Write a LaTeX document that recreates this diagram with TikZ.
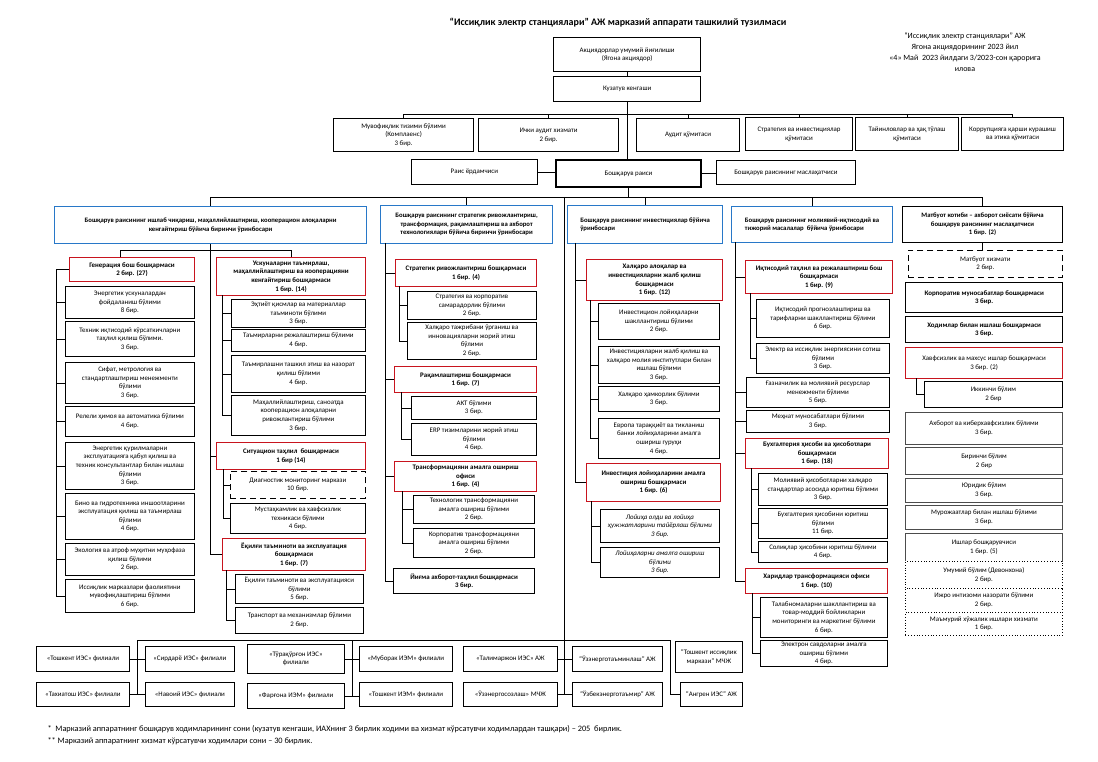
\documentclass[tikz,border=0pt]{standalone}
\usepackage{fontspec}
\setmainfont{Carlito}
\usetikzlibrary{calc}
\definecolor{redb}{RGB}{200,20,30}
\definecolor{blueb}{RGB}{40,120,200}
\tikzset{
 box/.style={draw=black, line width=0.8pt, fill=white, inner sep=1pt, align=center, font=\fontsize{6.9}{8.6}\selectfont},
 bbox/.style={box, font=\bfseries\fontsize{6.9}{8.6}\selectfont},
 hbox/.style={box, font=\bfseries\fontsize{6.7}{8.6}\selectfont},
 redbox/.style={bbox, draw=redb, line width=1.1pt},
 redplain/.style={box, draw=redb, line width=1.1pt},
 bluebox/.style={hbox, draw=blueb, line width=1.2pt},
 dashbox/.style={box, dash pattern=on 6pt off 4pt},
 dotbox/.style={box, dotted},
 thickbox/.style={bbox, line width=1.3pt},
 graybox/.style={box, draw=black!70, line width=1pt},
 itbox/.style={box, font=\itshape\fontsize{6.9}{8.6}\selectfont},
 conn/.style={draw=black, line width=0.7pt},
}
\newcommand{\obox}[7]{%
 \pgfmathsetmacro\bw{#4-#2}\pgfmathsetmacro\bh{#5-#3}%
 \node[#6, anchor=north west, minimum width=\bw pt, minimum height=\bh pt] (#1) at (#2,#3) {#7};}
\newcommand{\busto}[2]{\draw[conn] (#1 |- #2.west) -- (#2.west);}
\begin{document}
\begin{tikzpicture}[x=1pt,y=-1pt]
\fill[white] (0,0) rectangle (1098,762);
\useasboundingbox (0,0) rectangle (1098,762);

% title and note
\node[font=\bfseries\fontsize{10}{12}\selectfont] (title) at (618,23) {“Иссиқлик электр станциялари” АЖ марказий аппарати ташкилий тузилмаси};
\node[align=center, font=\fontsize{8}{11}\selectfont] (note) at (965,52) {“Иссиқлик электр станциялари” АЖ\\Ягона акциядорининг 2023 йил\\«4» Май\ \ 2023 йилдаги 3/2023-сон қарорига\\илова};

% top
\obox{aksh}{553}{37}{700}{71}{box, line width=1.3pt}{Акциядорлар умумий йиғилиши\\(Ягона акциядор)}
\obox{kuz}{553}{76}{700}{101}{box, line width=1.3pt}{Кузатув кенгаши}
\obox{c1}{333}{118}{473}{151}{box, line width=1.1pt}{Мувофиқлик тизими бўлими\\(Комплаенс)\\3 бир.}
\obox{c2}{478}{118}{618}{151}{box, line width=1.1pt}{Ички аудит хизмати\\2 бир.}
\obox{c3}{636}{118}{739}{151}{box, line width=1.1pt}{Аудит қўмитаси}
\obox{c4}{745}{117}{852}{150}{box, line width=1.1pt}{Стратегия ва инвестициялар\\қўмитаси}
\obox{c5}{855}{117}{958}{150}{box, line width=1.1pt}{Тайинловлар ва ҳақ тўлаш\\қўмитаси}
\obox{c6}{961}{117}{1063}{150}{box, line width=1.1pt}{Коррупцияга қарши курашиш\\ва этика қўмитаси}
\obox{yor}{411}{159}{537}{184}{box}{Раис ёрдамчиси}
\obox{rais}{555}{159}{700}{186}{box, line width=2pt}{Бошқарув раиси}
\obox{masl}{716}{160}{855}{184}{box}{Бошқарув раисининг маслаҳатчиси}

\draw[conn] (aksh) -- (kuz);
\coordinate (cb) at (0,114);
\draw[conn] (kuz.south) -- (kuz.south |- rais.north);
\draw[conn] (c1.north) -- (c1.north |- cb) -- (c6.north |- cb) -- (c6.north);
\foreach \c in {c2,c3,c4,c5} {\draw[conn] (\c.north) -- (\c.north |- cb);}
\draw[conn] (yor.east) -- (yor.east -| rais.west);
\draw[conn] (rais.east) -- (rais.east -| masl.west);

% headers
\obox{h1}{54}{206}{366}{243}{bluebox}{Бошқарув раисининг ишлаб чиқариш, маҳаллийлаштириш, кооперацион алоқаларни\\кенгайтириш бўйича биринчи ўринбосари}
\obox{h2}{380}{205}{552}{243}{bluebox}{Бошқарув раисининг стратегик ривожлантириш,\\трансформация, рақамлаштириш ва ахборот\\технологиялари бўйича биринчи ўринбосари}
\obox{h3}{567}{205}{722}{243}{bluebox, align=left}{Бошқарув раисининг инвестициялар бўйича\\ўринбосари}
\obox{h4}{731}{206}{892}{242}{bluebox, align=left}{Бошқарув раисининг молиявий-иқтисодий ва\\тижорий масалалар\ \ бўйича ўринбосари}
\obox{h5}{902}{206}{1062}{242}{hbox, line width=1.1pt}{Матбуот котиби – ахборот сиёсати бўйича\\бошқарув раисининг маслаҳатчиси\\1 бир. (2)}

\coordinate (hb) at (0,197);
\coordinate (lv) at (564,640);
\draw[conn] (rais.south) -- (rais.south |- hb);
\draw[conn] (h1.north) -- (h1.north |- hb) -- (h5.north |- hb) -- (h5.north);
\foreach \c in {h2,h3,h4} {\draw[conn] (\c.north) -- (\c.north |- hb);}
\draw[conn] (lv |- hb) -- (lv);

% column 1
\obox{g}{69}{257}{194}{281}{redbox}{Генерация бош бошқармаси\\2 бир. (27)}
\obox{u}{216}{257}{365}{295}{redbox}{Ускуналарни таъмирлаш,\\маҳаллийлаштириш ва кооперацияни\\кенгайтириш бошқармаси\\1 бир. (14)}
\coordinate (s1) at (120,250);
\draw[conn] (h1.south) -- (h1.south |- s1);
\draw[conn] (s1 |- g.north) -- (s1) -- (s1 -| u.north) -- (u.north);

\obox{e1}{65}{286}{194}{318}{box}{Энергетик ускуналардан\\фойдаланиш бўлими\\8 бир.}
\obox{e2}{65}{321}{194}{356}{box}{Техник иқтисодий кўрсаткичларни\\таҳлил қилиш бўлими.\\3 бир.}
\obox{e3}{65}{362}{194}{403}{box}{Сифат, метрология ва\\стандартлаштириш менежменти\\бўлими\\3 бир.}
\obox{e4}{65}{406}{194}{436}{box}{Релели ҳимоя ва автоматика бўлими\\4 бир.}
\obox{e5}{65}{442}{194}{489}{box}{Энергетик қурилмаларни\\эксплуатацияга қабул қилиш ва\\техник консультантлар билан ишлаш\\бўлими\\3 бир.}
\obox{e6}{65}{493}{194}{539}{box}{Бино ва гидротехника иншоотларини\\эксплуатация қилиш ва таъмирлаш\\бўлими\\4 бир.}
\obox{e7}{65}{543}{194}{575}{box}{Экология ва атроф муҳитни муҳофаза\\қилиш бўлими\\2 бир.}
\obox{e8}{65}{579}{194}{612}{box}{Иссиқлик марказлари фаолиятини\\мувофиқлаштириш бўлими\\6 бир.}
\coordinate (b1) at (56,269);
\draw[conn] (g.west) -- (g.west -| b1) -- (b1 |- e8.west) -- (e8.west);
\foreach \c in {e1,e2,e3,e4,e5,e6,e7} {\busto{b1}{\c}}

\obox{m1}{231}{299}{365}{327}{box}{Эҳтиёт қисмлар ва материаллар\\таъминоти бўлими\\3 бир.}
\obox{m2}{231}{329}{365}{351}{box}{Таъмирларни режалаштириш бўлими\\4 бир.}
\obox{m3}{231}{355}{365}{392}{box}{Таъмирлашни ташкил этиш ва назорат\\қилиш бўлими\\4 бир.}
\obox{m4}{231}{395}{365}{435}{box}{Маҳаллийлаштириш, саноатда\\кооперацион алоқаларни\\ривожлантириш бўлими\\3 бир.}
\coordinate (b2) at (222,295);
\draw[conn] (b2) -- (b2 |- m4.west) -- (m4.west);
\foreach \c in {m1,m2,m3} {\busto{b2}{\c}}

\obox{sit}{216}{442}{365}{469}{redbox}{Ситуацион таҳлил\ \ бошқармаси\\1 бир (14)}
\obox{d1}{230}{471}{365}{498}{dashbox}{Диагностик мониторинг маркази\\10 бир.}
\obox{d2}{230}{503}{365}{533}{box}{Мустаҳкамлик ва хавфсизлик\\техникаси бўлими\\4 бир.}
\coordinate (b3) at (223,469);
\draw[conn] (b3) -- (b3 |- d2.west) -- (d2.west);
\busto{b3}{d1}
\obox{yoq}{222}{538}{365}{570}{redbox}{Ёқилғи таъминоти ва эксплуатация\\бошқармаси\\1 бир. (7)}
\obox{f1}{235}{574}{363}{603}{box}{Ёқилғи таъминоти ва эксплуатацияси\\бўлими\\5 бир.}
\obox{f2}{235}{607}{363}{633}{box}{Транспорт ва механизмлар бўлими\\2 бир.}
\coordinate (b4) at (226,570);
\draw[conn] (b4) -- (b4 |- f2.west) -- (f2.west);
\busto{b4}{f1}
\draw[conn] (h1.south |- s1) -- (h1.south |- yoq.west) -- (yoq.west);
\draw[conn] (h1.south |- sit.west) -- (sit.west);

% column 2
\coordinate (b5) at (385,243);
\obox{s1b}{395}{259}{536}{286}{redbox}{Стратегик ривожлантириш бошқармаси\\1 бир. (4)}
\obox{s1x}{407}{291}{536}{319}{box}{Стратегия ва корпоратив\\самарадорлик бўлими\\2 бир.}
\obox{s1y}{407}{322}{536}{359}{box}{Халқаро тажрибани ўрганиш ва\\инновацияларни жорий этиш\\бўлими\\2 бир.}
\coordinate (b6) at (399,286);
\draw[conn] (b6) -- (b6 |- s1y.west) -- (s1y.west);
\busto{b6}{s1x}
\obox{r1}{394}{366}{536}{392}{redbox}{Рақамлаштириш бошқармаси\\1 бир. (7)}
\obox{r1x}{411}{396}{536}{419}{box}{АКТ бўлими\\3 бир.}
\obox{r1y}{411}{423}{536}{455}{box}{ERP тизимларини жорий этиш\\бўлими\\4 бир.}
\coordinate (b7) at (401,392);
\draw[conn] (b7) -- (b7 |- r1y.west) -- (r1y.west);
\busto{b7}{r1x}
\obox{t1}{394}{461}{536}{491}{redbox}{Трансформацияни амалга ошириш\\офиси\\1 бир. (4)}
\obox{t1x}{413}{495}{534}{523}{box}{Технологик трансформацияни\\амалга ошириш бўлими\\2 бир.}
\obox{t1y}{413}{528}{534}{557}{box}{Корпоратив трансформацияни\\амалга ошириш бўлими\\2 бир.}
\coordinate (b8) at (402,491);
\draw[conn] (b8) -- (b8 |- t1y.west) -- (t1y.west);
\busto{b8}{t1x}
\obox{y1}{393}{568}{534}{593}{thickbox}{Йиғма ахборот-таҳлил бошқармаси\\3 бир.}
\draw[conn] (b5) -- (b5 |- y1.west) -- (y1.west);
\foreach \c in {s1b,r1,t1} {\busto{b5}{\c}}

% column 3
\coordinate (b9) at (575,243);
\obox{x1}{586}{259}{722}{300}{redbox}{Халқаро алоқалар ва\\инвестицияларни жалб қилиш\\бошқармаси\\1 бир. (12)}
\obox{x1a}{598}{303}{719}{339}{box}{Инвестицион лойиҳаларни\\шакллантириш бўлими\\2 бир.}
\obox{x1b}{598}{346}{719}{383}{box}{Инвестицияларни жалб қилиш ва\\халқаро молия институтлари билан\\ишлаш бўлими\\3 бир.}
\obox{x1c}{598}{386}{719}{411}{box}{Халқаро ҳамкорлик бўлими\\3 бир.}
\obox{x1d}{598}{418}{719}{458}{box}{Европа тараққиёт ва тикланиш\\банки лойиҳаларини амалга\\ошириш гуруҳи\\4 бир.}
\coordinate (b10) at (590,300);
\draw[conn] (b10) -- (b10 |- x1d.west) -- (x1d.west);
\foreach \c in {x1a,x1b,x1c} {\busto{b10}{\c}}
\obox{x2}{586}{463}{720}{501}{redbox}{Инвестиция лойиҳаларини амалга\\ошириш бошқармаси\\1 бир. (6)}
\obox{x2a}{600}{509}{719}{542}{itbox}{Лойиҳа олди ва лойиҳа\\ҳужжатларини тайёрлаш бўлими\\3 бир.}
\obox{x2b}{600}{547}{719}{577}{itbox}{Лойиҳаларни амалга ошириш\\бўлими\\3 бир.}
\coordinate (b11) at (591,501);
\draw[conn] (b11) -- (b11 |- x2b.west) -- (x2b.west);
\busto{b11}{x2a}
\draw[conn] (b9) -- (b9 |- x2.west) -- (x2.west);
\busto{b9}{x1}

% column 4
\coordinate (b12) at (735,242);
\obox{i1}{745}{260}{892}{293}{redbox}{Иқтисодий таҳлил ва режалаштириш бош\\бошқармаси\\1 бир. (9)}
\obox{i1a}{756}{299}{889}{337}{box}{Иқтисодий прогнозлаштириш ва\\тарифларни шакллантириш бўлими\\6 бир.}
\obox{i1b}{756}{343}{889}{373}{box}{Электр ва иссиқлик энергиясини сотиш\\бўлими\\3 бир.}
\coordinate (b13) at (750,293);
\draw[conn] (b13) -- (b13 |- i1b.west) -- (i1b.west);
\busto{b13}{i1a}
\obox{gz}{746}{377}{889}{407}{box}{Ғазначилик ва молиявий ресурслар\\менежменти бўлими\\5 бир.}
\obox{mh}{746}{410}{889}{432}{box}{Меҳнат муносабатлари бўлими\\3 бир.}
\obox{bu}{745}{438}{888}{468}{redbox}{Бухгалтерия ҳисоби ва ҳисоботлари\\бошқармаси\\1 бир. (18)}
\obox{bua}{758}{473}{887}{505}{box}{Молиявий ҳисоботларни халқаро\\стандартлар асосида юритиш бўлими\\3 бир.}
\obox{bub}{758}{508}{887}{538}{box}{Бухгалтерия ҳисобини юритиш\\бўлими\\11 бир.}
\obox{buc}{758}{541}{887}{562}{box}{Солиқлар ҳисобини юритиш бўлими\\4 бир.}
\coordinate (b14) at (751,468);
\draw[conn] (b14) -- (b14 |- buc.west) -- (buc.west);
\foreach \c in {bua,bub} {\busto{b14}{\c}}
\obox{hr}{745}{568}{887}{593}{redbox}{Харидлар трансформацияси офиси\\1 бир. (10)}
\obox{hra}{760}{597}{887}{637}{box}{Талабномаларни шакллантириш ва\\товар-моддий бойликларни\\мониторинги ва маркетинг бўлими\\6 бир.}
\obox{hrb}{760}{640}{887}{666}{box}{Электрон савдоларни амалга\\ошириш бўлими\\4 бир.}
\coordinate (b15) at (752,593);
\draw[conn] (b15) -- (b15 |- hrb.west) -- (hrb.west);
\busto{b15}{hra}
\draw[conn] (b12) -- (b12 |- hr.west) -- (hr.west);
\foreach \c in {i1,gz,mh,bu} {\busto{b12}{\c}}

% column 5
\obox{mx}{908}{250}{1062}{277}{dashbox}{Матбуот хизмати\\2 бир.}
\draw[conn] (h5.south) -- (h5.south |- mx.north);
\obox{kr}{905}{282}{1062}{312}{thickbox}{Корпоратив муносабатлар бошқармаси\\3 бир.}
\obox{hd}{905}{316}{1062}{342}{thickbox}{Ходимлар билан ишлаш бошқармаси\\3 бир.}
\obox{hv}{905}{347}{1062}{378}{redplain}{Хавфсизлик ва махсус ишлар бошқармаси\\3 бир. (2)}
\obox{ik}{924}{381}{1062}{407}{box}{Иккинчи бўлим\\2 бир}
\coordinate (b16) at (916,378);
\draw[conn] (b16) |- (ik.west);
\obox{ax}{905}{412}{1062}{444}{graybox}{Ахборот ва киберхавфсизлик бўлими\\3 бир.}
\obox{br}{905}{447}{1062}{474}{graybox}{Биринчи бўлим\\2 бир}
\obox{yu}{905}{478}{1062}{502}{graybox}{Юридик бўлим\\3 бир.}
\obox{mu}{905}{505}{1062}{529}{graybox}{Мурожаатлар билан ишлаш бўлими\\3 бир.}
\obox{is}{905}{533}{1062}{561}{graybox}{Ишлар бошқарувчиси\\1 бир. (5)}
\obox{um}{905}{561}{1062}{588}{dotbox}{Умумий бўлим (Девонхона)\\2 бир.}
\obox{ij}{905}{588}{1062}{612}{dotbox}{Ижро интизоми назорати бўлими\\2 бир.}
\obox{mm}{905}{612}{1062}{635}{dotbox}{Маъмурий хўжалик ишлари хизмати\\1 бир.}

% filials
\obox{fa1}{36}{646}{129}{671}{box}{«Тошкент ИЭС» филиали}
\obox{fa2}{36}{682}{129}{706}{box}{«Тахиатош ИЭС» филиали}
\obox{fb1}{145}{646}{234}{671}{box}{«Сирдарё ИЭС» филиали}
\obox{fb2}{145}{682}{234}{706}{box}{«Навоий ИЭС» филиали}
\obox{fc1}{247}{644}{344}{673}{box}{«Тўрақўрғон ИЭС»\\филиали}
\obox{fc2}{247}{683}{344}{708}{box}{«Фарғона ИЭМ» филиали}
\obox{fd1}{359}{646}{452}{671}{box}{«Муборак ИЭМ» филиали}
\obox{fd2}{359}{682}{452}{706}{box}{«Тошкент ИЭМ» филиали}
\obox{fe1}{463}{646}{557}{671}{box}{«Талимаржон ИЭС» АЖ}
\obox{fe2}{463}{682}{557}{706}{box}{«Ўзэнергосозлаш» МЧЖ}
\obox{ff1}{572}{646}{662}{671}{box}{“Ўзэнерготаъминлаш” АЖ}
\obox{ff2}{572}{682}{662}{706}{box}{“Ўзбекэнерготаъмир” АЖ}
\obox{fg1}{675}{641}{742}{672}{box}{“Тошкент иссиқлик\\маркази” МЧЖ}
\obox{fg2}{680}{682}{742}{706}{box}{“Ангрен ИЭС” АЖ}

\coordinate (fbL) at (137,640);
\coordinate (fbM) at (352,640);
\coordinate (fbR) at (670,640);
\draw[conn] (fbL) -- (fbR);
\draw[conn] (fbL) -- (fbL |- fa2.east);
\draw[conn] (fbM) -- (fbM |- fc2.east);
\draw[conn] (lv) -- (lv |- fe2.east);
\draw[conn] (fbR) -- (fbR |- fg2.west) -- (fg2.west);
\draw[conn] (fa1.east) -- (fa1.east -| fb1.west);
\draw[conn] (fa2.east) -- (fa2.east -| fb2.west);
\draw[conn] (fc1.east) -- (fc1.east -| fd1.west);
\draw[conn] (fc2.east) -- (fc2.east -| fd2.west);
\draw[conn] (fe1.east) -- (fe1.east -| ff1.west);
\draw[conn] (fe2.east) -- (fe2.east -| ff2.west);

% footnotes
\node[anchor=west, font=\fontsize{8.3}{9}\selectfont] (fn1) at (44,729) {*\ \ Марказий аппаратнинг бошқарув ходимларининг сони (кузатув кенгаши, ИАХнинг 3 бирлик ходими ва хизмат кўрсатувчи ходимлардан ташқари) – 205\ \ бирлик.};
\node[anchor=west, font=\fontsize{8.3}{9}\selectfont] (fn2) at (44,741) {** Марказий аппаратнинг хизмат кўрсатувчи ходимлари сони – 30 бирлик.};
\end{tikzpicture}
\end{document}
